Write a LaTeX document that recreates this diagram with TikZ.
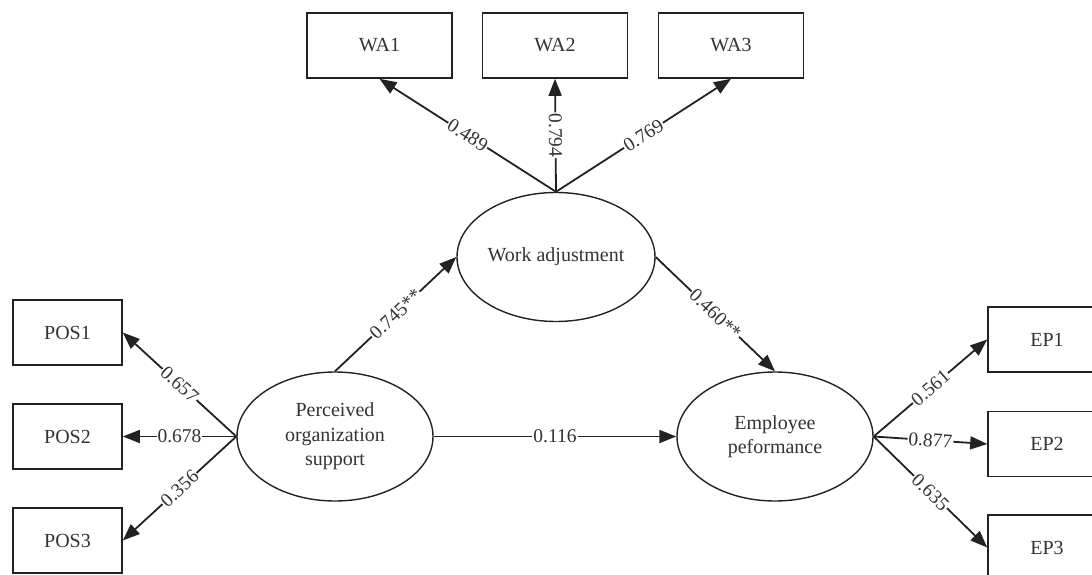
\documentclass[tikz,border=0pt]{standalone}
\usepackage{fontspec}
\setmainfont{Liberation Serif}
\usetikzlibrary{arrows.meta,shapes.geometric}
\definecolor{ink}{HTML}{222222}
\definecolor{txt}{HTML}{333333}
\tikzset{
  obs/.style={draw=ink,line width=1.6pt,rectangle,minimum height=65pt,inner sep=0pt,text=txt,font=\fontsize{20}{24}\selectfont},
  lat/.style={draw=ink,line width=1.4pt,ellipse,inner sep=0pt,text=txt,align=center,font=\fontsize{20}{24.5}\selectfont},
  conn/.style={draw=ink,line width=1.8pt,-{Triangle[length=17pt,width=13pt]}},
  lab/.style={midway,sloped,fill=white,inner sep=1pt,text=txt,font=\fontsize{19.5}{22}\selectfont}
}
\begin{document}
\begin{tikzpicture}[x=1pt,y=-1pt]
\useasboundingbox (0,0) rectangle (1092,575);
% observed boxes
\node[obs,minimum width=145pt] (WA1) at (379.5,45.5) {WA1};
\node[obs,minimum width=145pt] (WA2) at (555,45.5) {WA2};
\node[obs,minimum width=145pt] (WA3) at (731,45.5) {WA3};
\node[obs,minimum width=109pt] (POS1) at (67.5,332.5) {POS1};
\node[obs,minimum width=109pt] (POS2) at (67.5,436.5) {POS2};
\node[obs,minimum width=109pt] (POS3) at (67.5,540.5) {POS3};
\node[obs,minimum width=118pt] (EP1) at (1047,339.5) {EP1};
\node[obs,minimum width=118pt] (EP2) at (1047,444) {EP2};
\node[obs,minimum width=118pt] (EP3) at (1047,547.5) {EP3};
% latent ellipses
\node[lat,minimum width=198pt,minimum height=129pt] (WA) at (556,257) {Work adjustment};
\node[lat,minimum width=196pt,minimum height=129pt] (POS) at (335,436.5) {Perceived\\organization\\support};
\node[lat,minimum width=196pt,minimum height=129pt] (EP) at (775,436.5) {Employee\\peformance};
% connectors
\draw[conn] (WA.north) -- node[lab]{0.489} (WA1.south);
\draw[conn] (WA.north) -- node[lab]{0.794} (WA2.south);
\draw[conn] (WA.north) -- node[lab]{0.769} (WA3.south);
\draw[conn] (POS.west) -- node[lab]{0.657} (POS1.east);
\draw[conn] (POS.west) -- node[lab]{0.678} (POS2.east);
\draw[conn] (POS.west) -- node[lab]{0.356} (POS3.east);
\draw[conn] (POS.north) -- node[lab]{0.745**} (WA.west);
\draw[conn] (WA.east) -- node[lab]{0.460**} (EP.north);
\draw[conn] (POS.east) -- node[lab]{0.116} (EP.west);
\draw[conn] (EP.east) -- node[lab]{0.561} (EP1.west);
\draw[conn] (EP.east) -- node[lab]{0.877} (EP2.west);
\draw[conn] (EP.east) -- node[lab]{0.635} (EP3.west);
\end{tikzpicture}
\end{document}
